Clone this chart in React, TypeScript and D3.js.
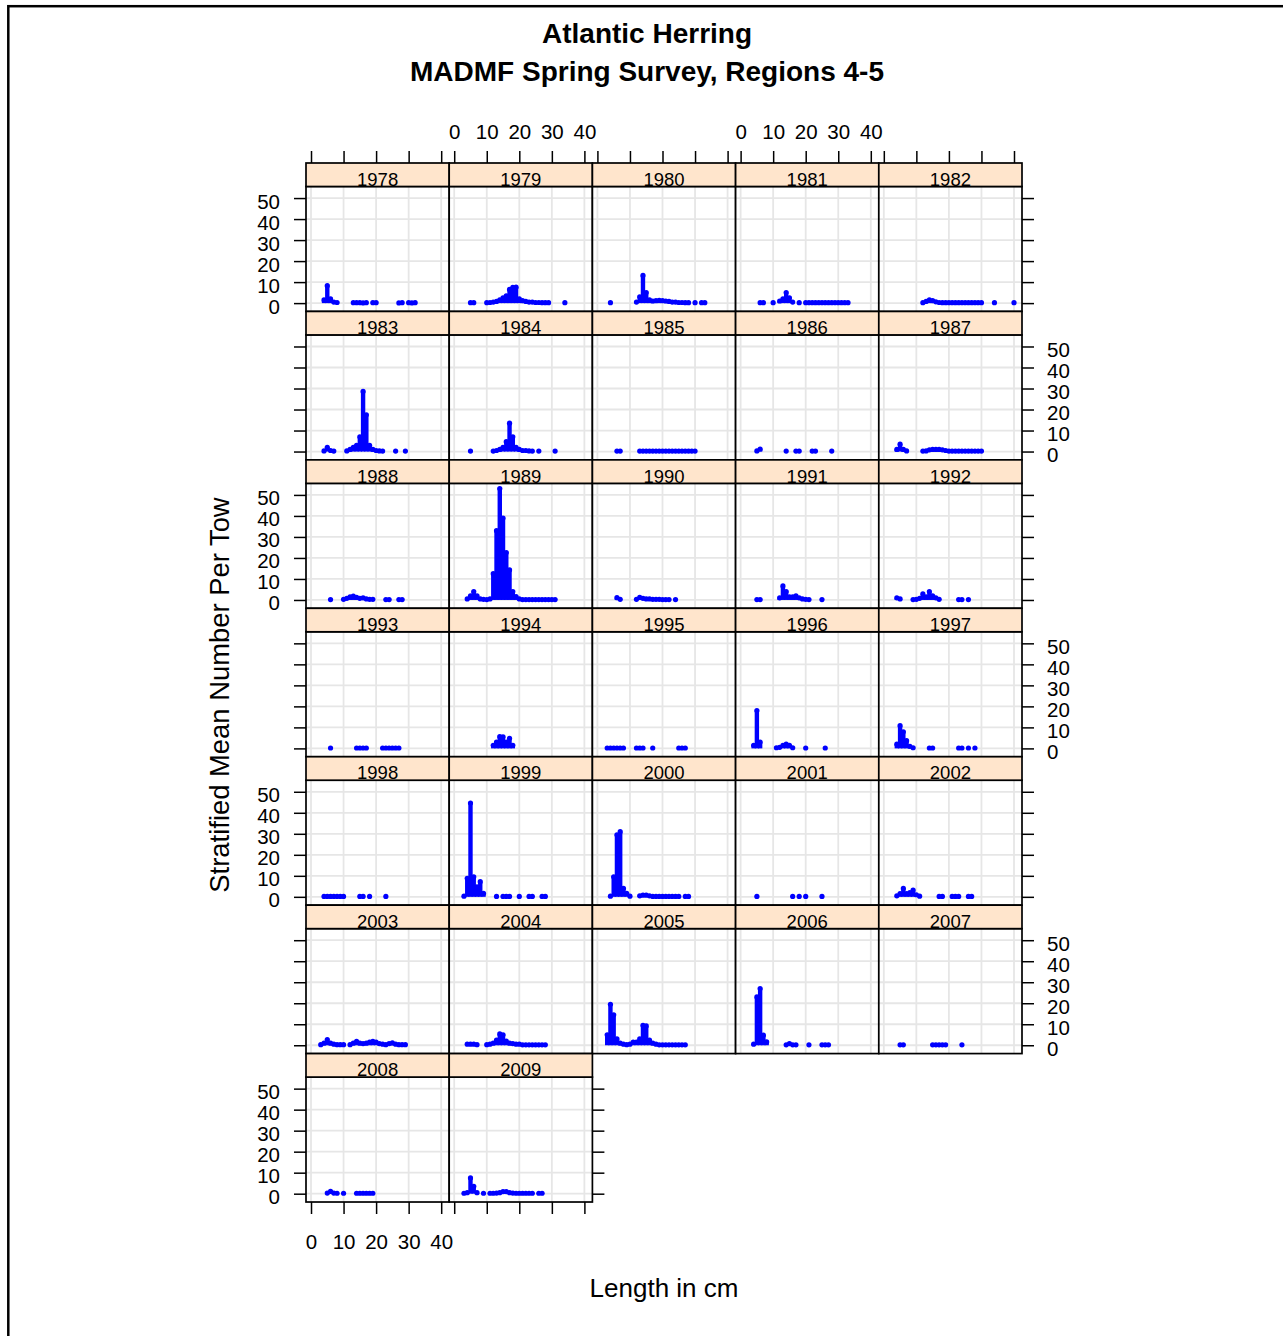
import { useEffect, useRef } from "react";
import * as d3 from "d3";

type Freq = [number, number][];

const W = 1283;
const H = 1336;
const FONT = "'Liberation Sans', Arial, Helvetica, sans-serif";

const titleLines = ["Atlantic Herring", "MADMF Spring Survey, Regions 4-5"];
const xLabel = "Length in cm";
const yLabel = "Stratified Mean Number Per Tow";

const years = d3.range(1978, 2010);
const xTicks = [0, 10, 20, 30, 40];
const yTicks = [0, 10, 20, 30, 40, 50];

// length (cm) -> stratified mean number per tow
const f1978: Freq = [[4, 1.5], [5, 8.3], [6, 2], [7, 0.5], [8, 0.3], [13, 0.2], [14, 0.2], [15, 0.2], [16, 0.1], [17, 0.2], [19, 0.2], [20, 0.2], [27, 0.1], [28, 0.2], [30, 0.2], [31, 0.1], [32, 0.2]];
const f1979: Freq = [[5, 0.2], [6, 0.2], [10, 0.2], [11, 0.3], [12, 0.5], [13, 0.8], [14, 1.5], [15, 2.5], [16, 3.5], [17, 6.5], [18, 7.5], [19, 7.6], [20, 2], [21, 1.2], [22, 0.8], [23, 0.5], [24, 0.5], [25, 0.3], [26, 0.3], [27, 0.2], [28, 0.2], [29, 0.2], [34, 0.2]];
const f1980: Freq = [[4, 0.2], [12, 0.5], [13, 3], [14, 13.2], [15, 5], [16, 1.5], [17, 1], [18, 1.2], [19, 1.3], [20, 1.2], [21, 1], [22, 0.8], [23, 0.5], [24, 0.5], [25, 0.3], [26, 0.3], [27, 0.2], [28, 0.2], [30, 0.2], [32, 0.2], [33, 0.2]];
const f1981: Freq = [[6, 0.2], [7, 0.2], [10, 0.2], [12, 1], [13, 2], [14, 5], [15, 2.5], [16, 0.5], [18, 0.2], [20, 0.2], [21, 0.2], [22, 0.2], [23, 0.2], [24, 0.2], [25, 0.2], [26, 0.2], [27, 0.2], [28, 0.2], [29, 0.2], [30, 0.2], [31, 0.2], [32, 0.2], [33, 0.2]];
const f1982: Freq = [[12, 0.2], [13, 0.8], [14, 1.5], [15, 1.2], [16, 0.6], [17, 0.3], [18, 0.2], [19, 0.2], [20, 0.2], [21, 0.2], [22, 0.2], [23, 0.2], [24, 0.2], [25, 0.2], [26, 0.2], [27, 0.2], [28, 0.2], [29, 0.2], [30, 0.2], [34, 0.2], [40, 0.2]];
const f1983: Freq = [[4, 0.3], [5, 2], [6, 0.5], [7, 0.2], [11, 0.3], [12, 1], [13, 2], [14, 3], [15, 7], [16, 28.6], [17, 17.5], [18, 3], [19, 1], [20, 0.5], [21, 0.3], [22, 0.2], [26, 0.2], [29, 0.2]];
const f1984: Freq = [[5, 0.2], [12, 0.2], [13, 0.5], [14, 1], [15, 2], [16, 4.7], [17, 13.5], [18, 7], [19, 2], [20, 1], [21, 0.5], [22, 0.5], [23, 0.3], [24, 0.2], [26, 0.2], [31, 0.2]];
const f1985: Freq = [[6, 0.2], [7, 0.2], [13, 0.2], [14, 0.2], [15, 0.2], [16, 0.2], [17, 0.2], [18, 0.2], [19, 0.2], [20, 0.2], [21, 0.2], [22, 0.2], [23, 0.2], [24, 0.2], [25, 0.2], [26, 0.2], [27, 0.2], [28, 0.2], [29, 0.2], [30, 0.2]];
const f1986: Freq = [[5, 0.3], [6, 1.2], [14, 0.2], [17, 0.2], [18, 0.2], [22, 0.2], [23, 0.2], [28, 0.2]];
const f1987: Freq = [[4, 1], [5, 3.5], [6, 1], [7, 0.3], [12, 0.2], [13, 0.3], [14, 0.8], [15, 1], [16, 1], [17, 1], [18, 0.8], [19, 0.5], [20, 0.2], [21, 0.2], [22, 0.2], [23, 0.2], [24, 0.2], [25, 0.2], [26, 0.2], [27, 0.2], [28, 0.2], [29, 0.2], [30, 0.2]];
const f1988: Freq = [[6, 0.2], [10, 0.3], [11, 0.8], [12, 1.5], [13, 1.9], [14, 1.2], [15, 0.8], [16, 1], [17, 0.5], [18, 0.3], [19, 0.3], [23, 0.2], [24, 0.2], [27, 0.2], [28, 0.2]];
const f1989: Freq = [[4, 0.5], [5, 2], [6, 4], [7, 2], [8, 0.5], [9, 0.3], [10, 0.2], [11, 0.5], [12, 12.5], [13, 33], [14, 53], [15, 39], [16, 22.6], [17, 14.3], [18, 4], [19, 1.6], [20, 0.5], [21, 0.2], [22, 0.2], [23, 0.2], [24, 0.2], [25, 0.2], [26, 0.2], [27, 0.2], [28, 0.2], [29, 0.2], [30, 0.2], [31, 0.2]];
const f1990: Freq = [[6, 1.1], [7, 0.3], [12, 0.3], [13, 1.2], [14, 0.8], [15, 0.5], [16, 0.5], [17, 0.3], [18, 0.3], [19, 0.3], [20, 0.2], [21, 0.2], [22, 0.2], [24, 0.2]];
const f1991: Freq = [[5, 0.2], [6, 0.2], [12, 1], [13, 6.7], [14, 4], [15, 1.5], [16, 1.5], [17, 2], [18, 1], [19, 0.5], [20, 0.3], [21, 0.2], [25, 0.2]];
const f1992: Freq = [[4, 1], [5, 0.5], [9, 0.2], [10, 0.3], [11, 0.8], [12, 2.9], [13, 1.5], [14, 4], [15, 2], [16, 1], [17, 0.3], [23, 0.2], [24, 0.2], [26, 0.2]];
const f1993: Freq = [[6, 0.2], [14, 0.2], [15, 0.2], [16, 0.2], [17, 0.2], [22, 0.2], [23, 0.2], [24, 0.2], [25, 0.2], [26, 0.2], [27, 0.2]];
const f1994: Freq = [[12, 1.5], [13, 3], [14, 5.6], [15, 5.5], [16, 3], [17, 4.8], [18, 1.5]];
const f1995: Freq = [[3, 0.2], [4, 0.2], [5, 0.2], [6, 0.2], [7, 0.2], [8, 0.2], [12, 0.2], [13, 0.2], [14, 0.2], [17, 0.2], [25, 0.2], [26, 0.2], [27, 0.2]];
const f1996: Freq = [[4, 1.5], [5, 18], [6, 3], [11, 0.3], [12, 0.5], [13, 1.5], [14, 2], [15, 1.5], [16, 0.3], [20, 0.2], [26, 0.2]];
const f1997: Freq = [[4, 2], [5, 10.8], [6, 7.9], [7, 3.7], [8, 1], [9, 0.3], [14, 0.2], [15, 0.2], [23, 0.2], [24, 0.2], [26, 0.2], [28, 0.2]];
const f1998: Freq = [[4, 0.2], [5, 0.2], [6, 0.2], [7, 0.2], [8, 0.2], [9, 0.2], [10, 0.2], [15, 0.2], [16, 0.2], [18, 0.2], [23, 0.2]];
const f1999: Freq = [[3, 0.3], [4, 8.8], [5, 44.6], [6, 9.5], [7, 4.8], [8, 7.2], [9, 1.6], [13, 0.2], [15, 0.2], [16, 0.2], [17, 0.2], [20, 0.2], [23, 0.2], [24, 0.2], [27, 0.2], [28, 0.2]];
const f2000: Freq = [[4, 0.3], [5, 9.5], [6, 29.5], [7, 31], [8, 4], [9, 1.6], [10, 0.3], [13, 0.5], [14, 0.8], [15, 0.8], [16, 0.5], [17, 0.2], [18, 0.2], [19, 0.2], [20, 0.2], [21, 0.2], [22, 0.2], [23, 0.2], [24, 0.2], [25, 0.2], [27, 0.2], [28, 0.2]];
const f2001: Freq = [[5, 0.2], [16, 0.2], [18, 0.2], [20, 0.2], [25, 0.2]];
const f2002: Freq = [[4, 0.5], [5, 1.5], [6, 4], [7, 1.5], [8, 2], [9, 3.2], [10, 1], [11, 0.3], [17, 0.2], [18, 0.2], [21, 0.2], [22, 0.2], [23, 0.2], [26, 0.2], [27, 0.2]];
const f2003: Freq = [[3, 0.3], [4, 1], [5, 2.7], [6, 1], [7, 0.5], [8, 0.3], [9, 0.3], [10, 0.3], [12, 0.3], [13, 1], [14, 1.9], [15, 1], [16, 0.8], [17, 1], [18, 1.5], [19, 1.9], [20, 1.5], [21, 0.8], [22, 0.5], [23, 0.3], [24, 0.8], [25, 1.1], [26, 0.5], [27, 0.3], [28, 0.3], [29, 0.3]];
const f2004: Freq = [[4, 0.5], [5, 0.5], [6, 0.5], [7, 0.3], [10, 0.3], [11, 0.5], [12, 1], [13, 2.5], [14, 5.4], [15, 5], [16, 2], [17, 1], [18, 0.8], [19, 0.5], [20, 0.5], [21, 0.2], [22, 0.2], [23, 0.2], [24, 0.2], [25, 0.2], [26, 0.2], [27, 0.2], [28, 0.2]];
const f2005: Freq = [[3, 5], [4, 19.5], [5, 14.5], [6, 3], [7, 1], [8, 0.5], [9, 0.3], [10, 0.5], [11, 1.5], [12, 1.5], [13, 3], [14, 9.5], [15, 9.2], [16, 2.5], [17, 1], [18, 0.5], [19, 0.2], [20, 0.2], [21, 0.2], [22, 0.2], [23, 0.2], [24, 0.2], [25, 0.2], [26, 0.2], [27, 0.2]];
const f2006: Freq = [[4, 0.5], [5, 23], [6, 27], [7, 4.8], [8, 1.6], [14, 0.2], [15, 0.8], [16, 0.2], [17, 0.2], [21, 0.2], [25, 0.2], [26, 0.2], [27, 0.2]];
const f2007: Freq = [[5, 0.2], [6, 0.2], [15, 0.2], [16, 0.2], [17, 0.2], [18, 0.2], [19, 0.2], [24, 0.2]];
const f2008: Freq = [[5, 0.3], [6, 1.1], [7, 0.3], [8, 0.2], [10, 0.2], [14, 0.2], [15, 0.2], [16, 0.2], [17, 0.2], [18, 0.2], [19, 0.2]];
const f2009: Freq = [[3, 0.2], [4, 0.5], [5, 7.5], [6, 3.5], [7, 0.5], [9, 0.2], [11, 0.2], [12, 0.2], [13, 0.3], [14, 0.5], [15, 1], [16, 1], [17, 0.5], [18, 0.3], [19, 0.2], [20, 0.2], [21, 0.2], [22, 0.2], [23, 0.2], [24, 0.2], [26, 0.2], [27, 0.2]];

const freqs: Freq[] = [
  f1978, f1979, f1980, f1981, f1982, f1983, f1984, f1985, f1986, f1987,
  f1988, f1989, f1990, f1991, f1992, f1993, f1994, f1995, f1996, f1997,
  f1998, f1999, f2000, f2001, f2002, f2003, f2004, f2005, f2006, f2007,
  f2008, f2009,
];

// trellis geometry
const ncol = 5;
const nrow = Math.ceil(years.length / ncol);
const gridLeft = 306;
const gridRight = 1022;
const gridTop = 163;
const rowH = 148.43;
const stripH = 23.5;
const colW = (gridRight - gridLeft) / ncol;
const panelH = rowH - stripH;
const tickLen = 12;
const tickFont = 20.5;

const colors = {
  strip: "#ffe5cc",
  grid: "#e6e6e6",
  point: "#0000ff",
  line: "#000000",
};

export default function App() {
  const ref = useRef<SVGSVGElement>(null);

  useEffect(() => {
    const svg = d3.select(ref.current);
    svg.selectAll("*").remove();

    const x = d3.scaleLinear().domain([-1.54, 42.46]).range([0, colW]);
    const y = d3.scaleLinear().domain([-3.96, 55.5]).range([panelH, 0]);

    // outer frame (only left/top fall inside the picture)
    svg
      .append("rect")
      .attr("x", 8.3)
      .attr("y", 6.2)
      .attr("width", W + 50)
      .attr("height", H + 50)
      .attr("fill", "none")
      .attr("stroke", "#000")
      .attr("stroke-width", 2.5);

    // title
    svg
      .selectAll("text.title")
      .data(titleLines)
      .join("text")
      .attr("class", "title")
      .attr("x", 647)
      .attr("y", (_, i) => 43 + i * 38)
      .attr("text-anchor", "middle")
      .attr("font-family", FONT)
      .attr("font-weight", "bold")
      .attr("font-size", 28)
      .text((d) => d);

    // ****************** panels ***************************
    years.forEach((year, i) => {
      const row = Math.floor(i / ncol);
      const col = i % ncol;
      const g = svg
        .append("g")
        .attr("transform", `translate(${gridLeft + col * colW},${gridTop + row * rowH})`);

      const p = g.append("g").attr("transform", `translate(0,${stripH})`);
      p.append("rect").attr("width", colW).attr("height", panelH).attr("fill", "#fff");

      p.selectAll("line.vgrid")
        .data(xTicks)
        .join("line")
        .attr("x1", (d) => x(d))
        .attr("x2", (d) => x(d))
        .attr("y1", 0)
        .attr("y2", panelH)
        .attr("stroke", colors.grid)
        .attr("stroke-width", 1.8);
      p.selectAll("line.hgrid")
        .data(yTicks)
        .join("line")
        .attr("x1", 0)
        .attr("x2", colW)
        .attr("y1", (d) => y(d))
        .attr("y2", (d) => y(d))
        .attr("stroke", colors.grid)
        .attr("stroke-width", 1.8);

      const data = freqs[i];
      p.selectAll("line.bar")
        .data(data)
        .join("line")
        .attr("x1", (d) => x(d[0]))
        .attr("x2", (d) => x(d[0]))
        .attr("y1", y(0))
        .attr("y2", (d) => y(d[1]))
        .attr("stroke", colors.point)
        .attr("stroke-width", 4.4);
      p.selectAll("circle")
        .data(data)
        .join("circle")
        .attr("cx", (d) => x(d[0]))
        .attr("cy", (d) => y(d[1]))
        .attr("r", 2.6)
        .attr("fill", colors.point);

      p.append("rect")
        .attr("width", colW)
        .attr("height", panelH)
        .attr("fill", "none")
        .attr("stroke", colors.line)
        .attr("stroke-width", 1.7);

      // strip
      g.append("rect")
        .attr("width", colW)
        .attr("height", stripH)
        .attr("fill", colors.strip)
        .attr("stroke", colors.line)
        .attr("stroke-width", 1.7);
      g.append("text")
        .attr("x", colW / 2)
        .attr("y", stripH - 0.8)
        .attr("text-anchor", "middle")
        .attr("font-family", FONT)
        .attr("font-size", 18.5)
        .text(String(year));
    });

    // ****************** axes ***************************
    const styleAxis = (sel: d3.Selection<SVGGElement, unknown, null, undefined>) => {
      sel.select(".domain").remove();
      sel.attr("font-family", FONT).attr("font-size", tickFont);
      sel.selectAll(".tick line").attr("stroke", colors.line).attr("stroke-width", 1.5);
      sel.selectAll(".tick text").attr("fill", colors.line);
    };
    const fmt = (show: boolean) => (d: d3.NumberValue) => (show ? String(d) : "");

    for (let r = 0; r < nrow; r++) {
      const top = gridTop + r * rowH + stripH;
      const left = svg
        .append("g")
        .attr("transform", `translate(${gridLeft},${top})`)
        .call(d3.axisLeft(y).tickValues(yTicks).tickSize(tickLen).tickPadding(14).tickFormat(fmt(r % 2 === 0)));
      styleAxis(left);
      left.selectAll(".tick text").attr("dy", 10);

      const lastCol = r === nrow - 1 ? (years.length - 1) % ncol : ncol - 1;
      const right = svg
        .append("g")
        .attr("transform", `translate(${gridLeft + (lastCol + 1) * colW},${top})`)
        .call(d3.axisRight(y).tickValues(yTicks).tickSize(tickLen).tickPadding(13).tickFormat(fmt(r % 2 === 1)));
      styleAxis(right);
      right.selectAll(".tick text").attr("dy", 10);
    }

    for (let c = 0; c < ncol; c++) {
      const topAxis = svg
        .append("g")
        .attr("transform", `translate(${gridLeft + c * colW},${gridTop})`)
        .call(d3.axisTop(x).tickValues(xTicks).tickSize(tickLen).tickPadding(11.7).tickFormat(fmt(c % 2 === 1)));
      styleAxis(topAxis);

      const lastIdx = (nrow - 1) * ncol + c;
      if (lastIdx < years.length) {
        const bottom = svg
          .append("g")
          .attr("transform", `translate(${gridLeft + c * colW},${gridTop + nrow * rowH})`)
          .call(d3.axisBottom(x).tickValues(xTicks).tickSize(tickLen).tickPadding(20.4).tickFormat(fmt(c % 2 === 0)));
        styleAxis(bottom);
      }
    }

    // axis titles
    svg
      .append("text")
      .attr("x", 664)
      .attr("y", 1297)
      .attr("text-anchor", "middle")
      .attr("font-family", FONT)
      .attr("font-size", 26)
      .text(xLabel);
    svg
      .append("text")
      .attr("transform", "translate(229,695) rotate(-90)")
      .attr("text-anchor", "middle")
      .attr("font-family", FONT)
      .attr("font-size", 27.4)
      .text(yLabel);
  }, []);

  return (
    <svg
      ref={ref}
      width={W}
      height={H}
      style={{ position: "absolute", left: 0, top: 0, background: "#fff" }}
    />
  );
}
